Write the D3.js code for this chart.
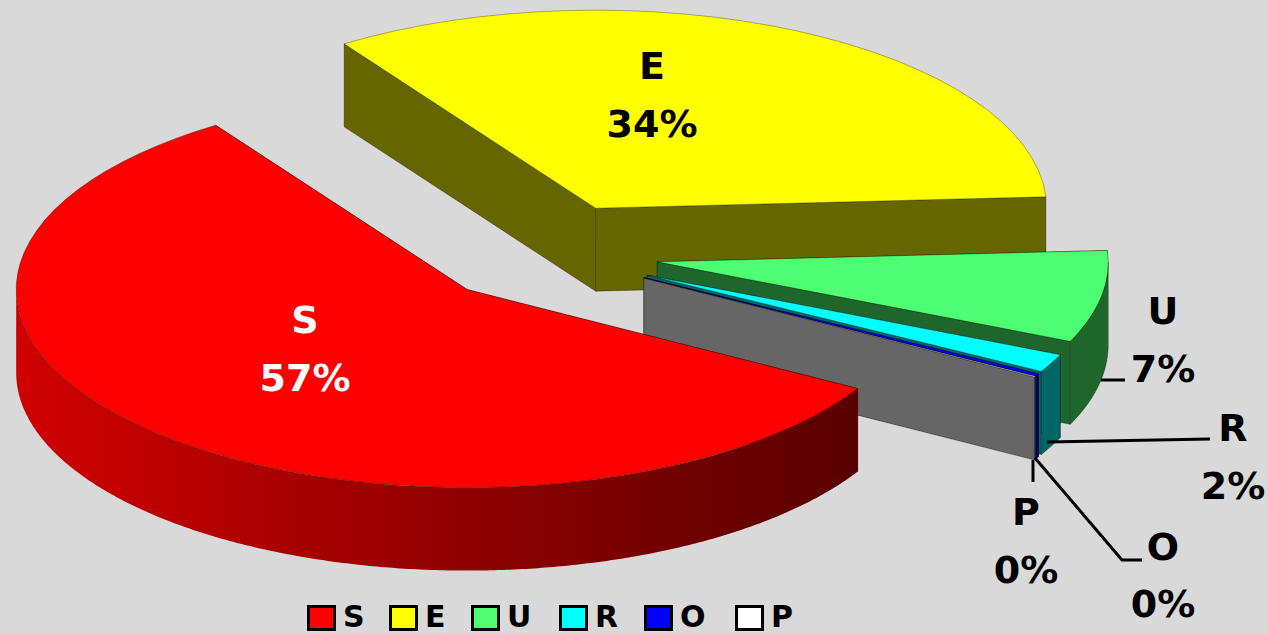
<!DOCTYPE html>
<html>
<head>
<meta charset="utf-8">
<script src="https://cdn.jsdelivr.net/npm/d3@7"></script>
<style>
  html, body { margin: 0; padding: 0; background: #d9d9d9; overflow: hidden; }
  text { font-family: "DejaVu Sans", sans-serif; font-weight: bold; }
</style>
</head>
<body>
<svg id="chart" width="1268" height="634"></svg>
<script>
const categories = ['S', 'E', 'U', 'R', 'O', 'P'];
const shares = [57.25, 33.5, 7.49, 1.5, 0.2, 0.06];

const topColors = ['#ff0000', '#ffff00', '#4dff70', '#00ffff', '#0000ff', '#ffffff'];
const wallColors = ['#660000', '#666600', '#1f662d', '#006666', '#000066', '#666666'];

const cx = 545, cy = 253;      // pie centre before the slices are pulled out
const rx = 451, ry = 198;
const depth = 83;
const explode = 114;
const deg = Math.PI / 180;

const svg = d3.select('#chart');

const defs = svg.append('defs');
const rimGrad = defs.append('linearGradient')
  .attr('id', 'rimS')
  .attr('gradientUnits', 'userSpaceOnUse')
  .attr('x1', 16).attr('x2', 858).attr('y1', 0).attr('y2', 0);
rimGrad.append('stop').attr('offset', 0).attr('stop-color', '#d00000');
rimGrad.append('stop').attr('offset', 1).attr('stop-color', '#580000');

const pie = d3.pie().sort(null).startAngle(120 * deg).endAngle(480 * deg);
const arcs = pie(shares);

const arcGen = d3.arc().innerRadius(0).outerRadius(rx);
const line = d3.line();

// unit circle to flattened ellipse
const sx = d3.scaleLinear().domain([-1, 1]).range([-rx, rx]);
const sy = d3.scaleLinear().domain([-1, 1]).range([-ry, ry]);

function apex(d) {
  const mid = (d.startAngle + d.endAngle) / 2;
  return [cx + explode * Math.sin(mid), cy - explode * Math.cos(mid) * ry / rx];
}

function edge(o, t, dz) {
  return [o[0] + sx(Math.sin(t)), o[1] - sy(Math.cos(t)) + dz];
}

function wall(o, t) {
  return line([o, edge(o, t, 0), edge(o, t, depth), [o[0], o[1] + depth]]) + 'Z';
}

function rim(o, a0, a1) {
  const ts = d3.range(a0, a1, 0.5 * deg).concat([a1]);
  const upper = ts.map(t => edge(o, t, 0));
  const lower = ts.map(t => edge(o, t, depth)).reverse();
  return line(upper.concat(lower)) + 'Z';
}

// back slices first, the big front slice covers the others
const order = arcs.slice(1).concat(arcs[0]);

order.forEach(d => {
  const i = d.index;
  const o = apex(d);
  const g = svg.append('g');

  [d.startAngle, d.endAngle].forEach(t => {
    g.append('path')
      .attr('d', wall(o, t))
      .attr('fill', wallColors[i])
      .attr('stroke', 'rgba(0,0,0,0.3)')
      .attr('stroke-width', 1);
  });

  // only the part of the rim turned to the viewer
  [0, 360].forEach(shift => {
    const a0 = Math.max(d.startAngle, (90 + shift) * deg);
    const a1 = Math.min(d.endAngle, (270 + shift) * deg);
    if (a1 <= a0) return;
    g.append('path')
      .attr('d', rim(o, a0, a1))
      .attr('fill', i === 0 ? 'url(#rimS)' : wallColors[i])
      .attr('stroke', i === 0 ? 'none' : 'rgba(0,0,0,0.3)')
      .attr('stroke-width', 1);
  });

  g.append('path')
    .attr('d', arcGen(d))
    .attr('transform', `translate(${o[0]},${o[1]}) scale(1,${ry / rx})`)
    .attr('fill', topColors[i])
    .attr('stroke', 'rgba(0,0,0,0.3)')
    .attr('stroke-width', 1)
    .attr('vector-effect', 'non-scaling-stroke');
});

// leader lines
const leaders = [
  [[1101, 380], [1125, 380]],
  [[1047, 442], [1210, 439]],
  [[1033, 460], [1033, 482]],
  [[1035, 458], [1122, 560], [1142, 560]]
];
svg.append('g').selectAll('path')
  .data(leaders)
  .join('path')
  .attr('d', d => line(d))
  .attr('fill', 'none')
  .attr('stroke', '#000')
  .attr('stroke-width', 3);

// data labels
const fmt = d3.format('.0f');
const labelPos = [[305, 322, 380], [652, 68, 126], [1163, 313, 371], [1233, 430, 488], [1163, 549, 606], [1026, 514, 572]];
const labelFill = ['#fff', '#000', '#000', '#000', '#000', '#000'];

const labels = svg.append('g').attr('font-size', 38).attr('text-anchor', 'middle');
categories.forEach((c, i) => {
  const p = labelPos[i];
  labels.append('text').attr('x', p[0]).attr('y', p[1]).attr('dy', '0.3em')
    .attr('fill', labelFill[i]).text(c);
  labels.append('text').attr('x', p[0]).attr('y', p[2]).attr('dy', '0.3em')
    .attr('fill', labelFill[i]).text(fmt(shares[i]) + '%');
});

// legend
const legendX = [307, 389, 471, 559, 644, 735];
const legend = svg.append('g').selectAll('g')
  .data(categories)
  .join('g')
  .attr('transform', (d, i) => `translate(${legendX[i]},606)`);
legend.append('rect')
  .attr('x', 1.5).attr('y', 0.5)
  .attr('width', 26).attr('height', 23)
  .attr('fill', (d, i) => topColors[i])
  .attr('stroke', '#000')
  .attr('stroke-width', 3);
legend.append('text')
  .attr('x', 36)
  .attr('y', 20.5)
  .attr('font-size', 30)
  .attr('fill', '#000')
  .text(d => d);
</script>
</body>
</html>
